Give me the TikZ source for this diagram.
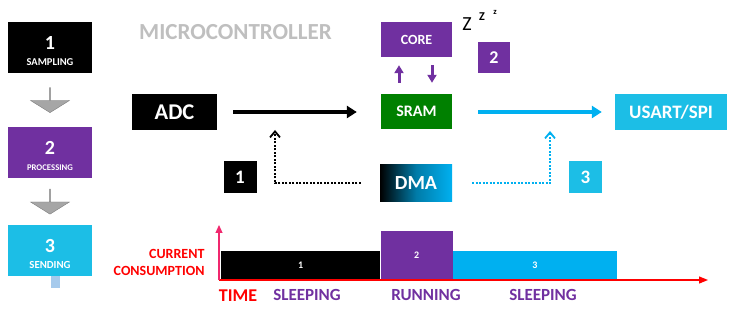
\documentclass[tikz,border=0pt]{standalone}
\usepackage{fontspec}
\setmainfont{Carlito}
\usetikzlibrary{arrows.meta, shapes.arrows, positioning, calc}
\definecolor{mcgray}{RGB}{191,191,191}
\definecolor{corepurple}{RGB}{112,48,160}
\definecolor{sramgreen}{RGB}{0,128,0}
\definecolor{sendcyan}{RGB}{28,190,230}
\definecolor{buscyan}{RGB}{0,176,240}
\definecolor{arrowgray}{RGB}{166,166,166}
\definecolor{arrowedge}{RGB}{128,128,128}
\definecolor{stubblue}{RGB}{166,202,236}
\definecolor{axisred}{RGB}{255,0,0}
\definecolor{axispink}{RGB}{240,40,110}
\newcommand{\fs}[1]{\fontsize{#1}{#1}\selectfont}

\tikzset{
  unit/.style={inner sep=0pt, text=white, font=\bfseries},
  stepbox/.style={unit, minimum width=84pt, minimum height=51pt},
  tagbox/.style={unit, minimum width=33pt, minimum height=32pt, font=\bfseries\fs{19}},
  gaparrow/.style={single arrow, shape border rotate=270, draw=arrowedge, fill=arrowgray,
    minimum height=25pt, minimum width=39pt, single arrow head extend=8.5pt,
    single arrow tip angle=116, inner sep=0pt},
  flow/.style={line width=4pt, -{Triangle[length=10pt, width=12pt]}},
  smallflow/.style={corepurple, line width=3pt, -{Triangle[length=8pt, width=9pt]}},
  dotflow/.style={line width=2pt, dash pattern=on 2pt off 1.5pt, -{Straight Barb[length=6pt, width=10pt, line width=1.8pt]}},
  bar/.style={unit, anchor=south west, font=\bfseries\fs{10}},
  phase/.style={text=corepurple, font=\bfseries\fs{17}},
}

\begin{document}
\begin{tikzpicture}[x=1pt, y=-1pt]
  \useasboundingbox (0,0) rectangle (730,312);

  % Steps on the left
  \foreach \n/\lbl/\col/\y/\sz in {1/SAMPLING/black/47.5/10.5, 2/PROCESSING/corepurple/152.5/8.7, 3/SENDING/sendcyan/250.5/10.8}{
    \node[stepbox, fill=\col,
      label={[anchor=base, yshift=-27.5pt, text=white, font=\bfseries\fs{20}]north:\n},
      label={[anchor=base, yshift=8pt, text=white, font=\bfseries\fs{\sz}]south:\lbl}] (s\n) at (50,\y) {};
  }
  \node[gaparrow] (g1) at ($(s1.south)!0.5!(s2.north)$) {};
  \node[gaparrow] (g2) at ($(s2.south)!0.5!(s3.north)$) {};
  \fill[stubblue] ($(s3.south)+(1,0)$) rectangle ++(9,12);

  % Microcontroller blocks
  \node[text=mcgray, font=\bfseries\fs{23}] (mcu) at (235.5,32) {MICROCONTROLLER};
  \node[unit, fill=black, minimum width=85pt, minimum height=36pt, font=\bfseries\fs{22.5}] (adc) at (174.5,112) {ADC};
  \node[unit, fill=corepurple, minimum width=71pt, minimum height=35pt, font=\bfseries\fs{14}] (core) at (416.5,39.5) {CORE};
  \node[unit, fill=sramgreen, minimum width=71pt, minimum height=35pt, font=\bfseries\fs{16}] (sram) at (416.5,111.5) {SRAM};
  \node[unit, fill=sendcyan, minimum width=112pt, minimum height=36pt, font=\bfseries\fs{19}] (usart) at (671,112) {USART/SPI};
  \node[unit, left color=black, right color=buscyan, middle color=buscyan!70!black,
    minimum width=72pt, minimum height=37pt, font=\bfseries\fs{20}] (dma) at (416,183.5) {DMA};

  % Sleep marks
  \node[font=\fs{20}] (z1) at (467,24) {Z};
  \node[font=\bfseries\fs{12}] (z2) at (482,17) {Z};
  \node[font=\bfseries\fs{8.5}] (z3) at (495,12) {z};

  % Phase tags
  \node[tagbox, fill=black] (t1) at (240,177) {1};
  \node[tagbox, fill=corepurple, minimum width=32pt, minimum height=31pt, font=\bfseries\fs{18}] (t2) at (494,57.5) {2};
  \node[tagbox, fill=sendcyan] (t3) at (585.5,177) {3};

  % Data paths
  \draw[flow, shorten <=16pt, shorten >=24pt] (adc.east) -- (sram.west |- adc.east);
  \draw[flow, buscyan, shorten <=26pt, shorten >=13pt] (sram.east |- usart.west) -- (usart.west);
  \draw[smallflow, shorten <=11pt, shorten >=8pt] ([xshift=-17.5pt]sram.north) -- ([xshift=-17.5pt]core.south);
  \draw[smallflow, shorten <=8pt, shorten >=11pt] ([xshift=15.5pt]core.south) -- ([xshift=15.5pt]sram.north);

  \coordinate (dmain) at (275,130);
  \coordinate (dmaout) at (550,131);
  \draw[dotflow, shorten <=19pt] (dma.west) -| (dmain);
  \draw[dotflow, buscyan, shorten <=20pt] (dma.east) -| (dmaout);

  % Current over time
  \coordinate (origin) at (219,280);
  \coordinate (ytip) at (219,225);
  \coordinate (xtip) at (708,280);
  \node[bar, fill=black, minimum width=159pt, minimum height=29pt] (b1) at (221,280) {1};
  \node[bar, fill=corepurple, minimum width=72pt, minimum height=49pt] (b2) at (b1.south east) {2};
  \node[bar, fill=buscyan, minimum width=164pt, minimum height=29pt] (b3) at (b2.south east) {3};
  \draw[axisred, line width=1.2pt, -{Triangle[length=9pt, width=7pt]}] (origin) -- (xtip);
  \draw[axispink, line width=1.2pt, -{Triangle[length=8pt, width=7pt]}] (origin) -- (ytip);

  \node[align=right, anchor=east, text=axisred, font=\bfseries\fontsize{14}{17}\selectfont] (cc) at (208,262.5) {CURRENT\\CONSUMPTION};
  \node[text=axisred, font=\bfseries\fs{18}] (time) at (238,296) {TIME};
  \node[phase] (p1) at (307,295) {SLEEPING};
  \node[phase] (p2) at (426,295) {RUNNING};
  \node[phase] (p3) at (543,295) {SLEEPING};
\end{tikzpicture}
\end{document}
